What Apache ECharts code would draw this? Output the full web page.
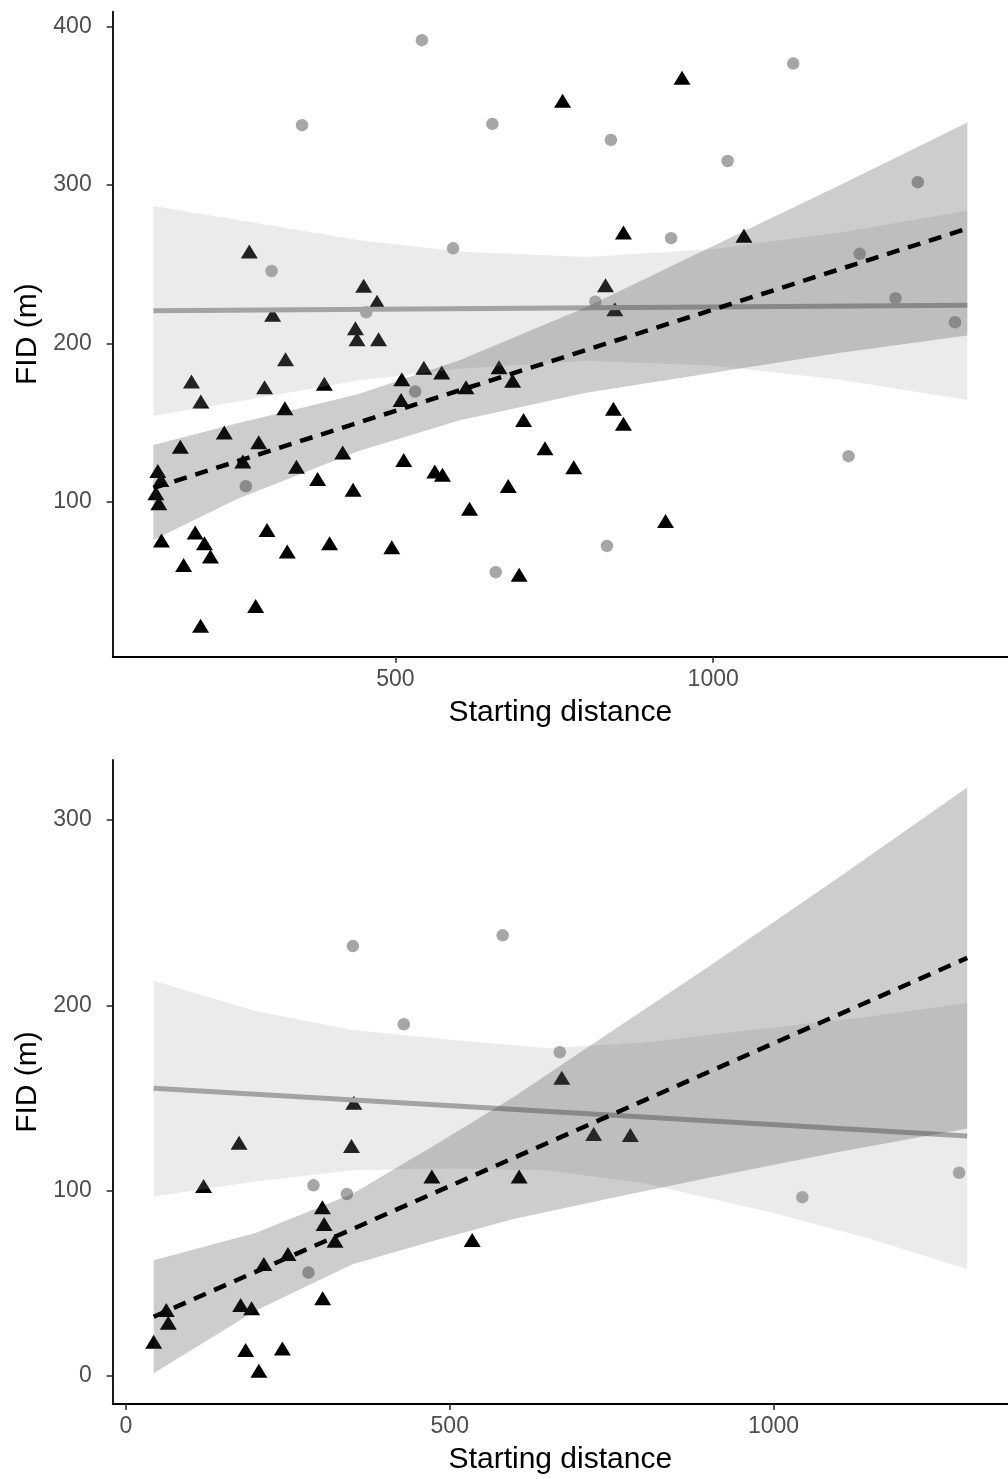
<!DOCTYPE html>
<html>
<head>
<meta charset="utf-8">
<script src="https://cdn.jsdelivr.net/npm/echarts@6/dist/echarts.min.js"></script>
<style>
  html, body { margin: 0; padding: 0; background: #fff; }
  #chart { width: 1008px; height: 1479px; }
</style>
</head>
<body>
<div id="chart"></div>
<script>
// ---- top panel : points ----
const topCircleX = [541.6, 353, 305, 454, 264.5, 531, 652.5, 839, 933.8, 590.6, 814.5, 832.8, 657.8, 1126, 1022.8, 1322, 1230.6, 1287, 1380.6, 1213];
const topCircleY = [391.5, 337.8, 245.7, 219.6, 109.7, 169.5, 338.6, 328.5, 266.4, 260, 226.3, 72, 55.4, 376.7, 315.2, 301.8, 256.5, 228.5, 213.3, 128.7];

const topTriX = [270, 450, 471, 306.7, 437, 439.5, 473.4, 327, 179, 294, 388, 193.7, 326, 510, 544.7, 508.8, 230.6, 161.4, 284.8, 259.8,
  344.2, 417, 377.5, 433.3, 513, 561.9, 574, 126, 131, 123, 127.6, 131.7, 184.8, 199.4, 208.8, 166.6, 297.9, 329.7, 396.3, 494.2,
  280, 193.3, 951, 763, 858.8, 830.6, 845.3, 572.8, 663, 611, 684.4, 701.6, 843, 858.8, 735.3, 780.6, 677.5, 616.6, 925, 694.7, 1048.4];
const topTriY = [258, 236.3, 226.3, 218, 209.5, 202.6, 202.6, 190, 175.8, 172.3, 174.4, 163.2, 159, 177.3, 184.6, 164.2, 143.6, 134.7, 137.5, 125.3,
  122, 131, 114.3, 107.4, 126.3, 119, 116.9, 119.4, 113.7, 105.3, 99, 75.4, 80.4, 73.7, 65.3, 60, 82.1, 68.4, 73.7, 71.2,
  34.1, 21.5, 367.7, 353.3, 270, 236.7, 221.5, 181.5, 184.9, 172.3, 176.4, 151.6, 158.6, 149.1, 133.7, 121.7, 109.9, 95.4, 87.8, 53.7, 268];

// ---- top panel : fits and bands ----
const topBandX = [119, 250, 441, 600, 800, 1000, 1200, 1400];
const topCircleHi = [286.8, 278, 265.3, 258, 254.5, 259.5, 270, 283.8];
const topCircleLo = [154, 163, 176.5, 184, 189, 186, 177, 164.2];
const topTriHi = [135.8, 149.4, 167.8, 189.2, 222.8, 261.4, 300, 339.5];
const topTriLo = [75.8, 101.4, 131.8, 151.2, 168.8, 181.4, 194, 205];
const topCircleFit = [[119, 220.5], [1400, 224]];
const topTriFit = [[119, 108.6], [1400, 272.5]];

// ---- bottom panel : points ----
const botCircleX = [350.4, 429, 581.7, 670, 289.6, 341.2, 281.9, 1044.4, 1286.5];
const botCircleY = [232, 189.8, 237.8, 174.7, 102.9, 98.2, 55.8, 96.5, 109.7];

const botTriX = [673, 351.9, 174.7, 348.3, 120, 472.4, 303.4, 306, 322.8, 250.2, 213, 303.8, 177.2, 194.1, 62.3, 65.4, 42.9, 184.9,
  241.6, 205.3, 607.2, 534.7, 722.2, 778.9];
const botTriY = [161, 147.5, 125.9, 124.1, 102.5, 107.6, 91, 82, 73, 65.8, 60.4, 41.9, 38.3, 36.5, 35.6, 28.8, 18.5, 14,
  14.9, 2.9, 107.6, 73.4, 130.6, 130];

// ---- bottom panel : fits and bands ----
const botCircleBandX = [42.9, 200, 350, 500, 650, 800, 1000, 1150, 1299];
const botCircleHi = [213.3, 197, 186.7, 181.5, 177, 180, 188, 194, 201.3];
const botCircleLo = [96.8, 105, 111, 112, 111, 104, 88, 74, 57.6];
const botTriBandX = [42.9, 200, 350, 481, 600, 750, 900, 1100, 1299];
const botTriHi = [62.5, 77.2, 98.3, 125.5, 150.8, 186, 221, 268.9, 317.6];
const botTriLo = [1.5, 35.2, 60.3, 73.5, 84.8, 96, 107, 120.9, 133.6];
const botCircleFit = [[42.9, 155.3], [1299, 129.5]];
const botTriFit = [[42.9, 32], [1299, 225.6]];

const topXTicks = [500, 1000];
const topYTicks = [100, 200, 300, 400];
const botXTicks = [0, 500, 1000];
const botYTicks = [0, 100, 200, 300];

const FONT = "'Liberation Sans', Arial, sans-serif";

function zip(xs, ys) {
  return xs.map((x, i) => [x, ys[i]]);
}

function band(xs, lo, hi, color, idx, z) {
  return {
    type: 'custom',
    xAxisIndex: idx,
    yAxisIndex: idx,
    z: z,
    silent: true,
    clip: true,
    data: xs.map((x, i) => [x, lo[i], hi[i]]),
    encode: { x: 0, y: [1, 2] },
    renderItem: function (params, api) {
      if (params.dataIndex !== 0) return null;
      const upper = xs.map((x, i) => api.coord([x, hi[i]]));
      const lower = xs.map((x, i) => api.coord([x, lo[i]])).reverse();
      return {
        type: 'polygon',
        shape: { points: upper.concat(lower) },
        style: { fill: color }
      };
    }
  };
}

function fitLine(data, idx, style, z) {
  return {
    type: 'line',
    xAxisIndex: idx,
    yAxisIndex: idx,
    z: z,
    silent: true,
    showSymbol: false,
    data: data,
    lineStyle: style
  };
}

function points(data, idx, symbol, size, color, z) {
  return {
    type: 'scatter',
    xAxisIndex: idx,
    yAxisIndex: idx,
    z: z,
    silent: true,
    symbol: symbol,
    symbolSize: size,
    itemStyle: { color: color, opacity: 1 },
    data: data
  };
}

function xAxis(idx, min, max, ticks) {
  return {
    type: 'value',
    gridIndex: idx,
    min: min,
    max: max,
    name: 'Starting distance',
    nameLocation: 'middle',
    nameGap: 41,
    nameTextStyle: { fontFamily: FONT, fontSize: 30, color: '#000' },
    axisLine: { onZero: false, lineStyle: { color: '#000', width: 1.8 } },
    axisTick: { customValues: ticks, length: 6, lineStyle: { color: '#333', width: 1.6 } },
    axisLabel: {
      customValues: ticks, margin: 11, fontFamily: FONT, fontSize: 23, color: '#4d4d4d',
      formatter: v => String(v)
    },
    splitLine: { show: false }
  };
}

function yAxis(idx, min, max, ticks) {
  return {
    type: 'value',
    gridIndex: idx,
    min: min,
    max: max,
    name: 'FID (m)',
    nameLocation: 'middle',
    nameRotate: 90,
    nameGap: 67,
    nameTextStyle: { fontFamily: FONT, fontSize: 30, color: '#000' },
    axisLine: { show: true, onZero: false, lineStyle: { color: '#000', width: 1.8 } },
    axisTick: { show: true, customValues: ticks, length: 6, lineStyle: { color: '#333', width: 1.6 } },
    axisLabel: {
      customValues: ticks, margin: 21, fontFamily: FONT, fontSize: 23, color: '#4d4d4d',
      formatter: v => String(v)
    },
    splitLine: { show: false }
  };
}

const chart = echarts.init(document.getElementById('chart'), null, { renderer: 'canvas' });

const LIGHT = 'rgba(160,160,160,0.21)';
const DARK = 'rgba(55,55,55,0.25)';
const GREYLINE = { color: '#a3a3a3', width: 5, type: 'solid' };
const DASHLINE = { color: '#000', width: 4.5, type: [13, 9], cap: 'butt' };

chart.setOption({
  backgroundColor: '#fff',
  animation: false,
  grid: [
    { left: 112.7, top: 11.7, width: 902, height: 645 },
    { left: 112.7, top: 760, width: 902.3, height: 644 }
  ],
  xAxis: [
    xAxis(0, 55, 1464, topXTicks),
    xAxis(1, -20.4, 1362, botXTicks)
  ],
  yAxis: [
    yAxis(0, 2, 409.5, topYTicks),
    yAxis(1, -15.1, 332.4, botYTicks)
  ],
  series: [
    points(zip(topCircleX, topCircleY), 0, 'circle', 12.5, '#a6a6a6', 2),
    points(zip(topTriX, topTriY), 0, 'triangle', [17, 14], '#000', 2),
    band(topBandX, topCircleLo, topCircleHi, LIGHT, 0, 3),
    fitLine(topCircleFit, 0, GREYLINE, 4),
    band(topBandX, topTriLo, topTriHi, DARK, 0, 5),
    fitLine(topTriFit, 0, DASHLINE, 6),

    points(zip(botCircleX, botCircleY), 1, 'circle', 12.5, '#a6a6a6', 2),
    points(zip(botTriX, botTriY), 1, 'triangle', [17, 14], '#000', 2),
    band(botCircleBandX, botCircleLo, botCircleHi, LIGHT, 1, 3),
    fitLine(botCircleFit, 1, GREYLINE, 4),
    band(botTriBandX, botTriLo, botTriHi, DARK, 1, 5),
    fitLine(botTriFit, 1, DASHLINE, 6)
  ]
});
</script>
</body>
</html>
